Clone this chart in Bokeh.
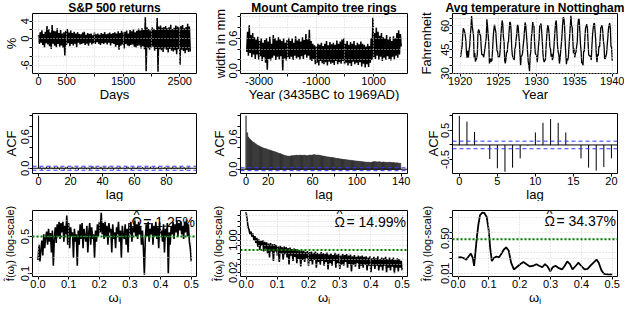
from bokeh.plotting import figure
from bokeh.layouts import gridplot
from bokeh.models import Range1d, FixedTicker, Span, Label, Title
from bokeh.embed import file_html
from bokeh.resources import INLINE

FONT = "Liberation Sans"

# ---------------- data ----------------
# S&P 500 daily returns (%), sampled every 15 days
sp_step = 15
sp_ret = [
    0.8, -1.2, 1.5, -0.9, 1.9, -1.4, 1.1, -2.0, 1.6, -1.0,
    2.9, -1.3, 2.2, -1.7, 1.4, -2.3, 3.1, -1.1, 1.8, -1.6,
    1.7, -1.9, 2.4, -1.2, 1.3, -1.8, 2.0, -1.5, 1.2, -2.1,
    1.5, -3.8, 1.8, -1.4, 2.2, -1.0, 1.4, -1.7, 1.9, -1.2,
    1.3, -1.5, 1.6, -1.1, 1.2, -1.9, 1.5, -0.9, 1.1, -1.3,
    1.0, -1.2, 1.4, -1.0, 1.6, -1.4, 0.9, -1.1, 1.3, -1.6,
    1.1, -0.9, 1.2, -1.3, 0.8, -1.0, 1.4, -1.2, 1.0, -0.8,
    1.2, -1.1, 0.9, -1.4, 1.3, -1.0, 1.1, -1.2, 1.5, -0.9,
    1.0, -1.3, 1.2, -0.9, 1.4, -1.5, 1.1, -1.0, 1.3, -1.2,
    1.5, -1.8, 1.2, -1.4, 1.7, -2.5, 1.3, -1.6, 1.8, -1.3,
    1.4, -2.2, 1.6, -1.2, 1.9, -1.5, 1.2, -1.7, 2.0, -1.4,
    1.7, -1.3, 2.1, -1.8, 1.5, -2.0, 1.8, -1.6, 2.3, -1.5,
    1.9, -2.2, 2.4, -1.7, 2.0, -2.4, 4.9, -7.4, 2.6, -2.1,
    2.2, -2.5, 1.9, -2.0, 2.6, -1.8, 2.3, -2.7, 2.0, -2.3,
    4.7, -7.5, 2.8, -2.4, 3.0, -2.6, 2.5, -3.0, 2.7, -2.2,
    2.9, -2.5, 2.4, -3.1, 2.6, -2.3, 3.2, -2.7, 2.2, -2.9,
    2.5, -2.6, 3.0, -3.5, 2.8, -2.4, 2.6, -5.9, 2.9, -2.5,
    3.1, -2.8, 2.4, -3.3, 2.7, -2.6, 3.4, -3.0, 2.8, -2.9,
]
sp_days = [1 + sp_step * i for i in range(len(sp_ret))]

# Mount Campito tree ring widths (mm), sampled every 30 years from 3435BC
tr_start, tr_step = -3435, 30
tr_width = [
    0.35, 0.72, 0.28, 0.84, 0.33, 0.66, 0.25, 0.70, 0.30, 0.62,
    0.22, 0.58, 0.30, 0.63, 0.20, 0.55, 0.27, 0.60, 0.18, 0.52,
    0.25, 0.57, 0.15, 0.60, 0.02, 0.54, 0.22, 0.63, 0.19, 0.50,
    0.24, 0.66, 0.28, 0.60, 0.20, 0.56, 0.26, 0.62, 0.21, 0.58,
    0.27, 0.55, 0.00, 0.60, 0.23, 0.52, 0.19, 0.57, 0.25, 0.61,
    0.22, 0.55, 0.26, 0.60, 0.20, 0.52, 0.28, 0.64, 0.23, 0.56,
    0.25, 0.59, 0.21, 0.54, 0.27, 0.62, 0.22, 0.57, 0.30, 0.68,
    0.24, 0.58, 0.28, 0.76, 0.20, 0.55, 0.18, 0.50, 0.22, 0.47,
    0.12, 0.45, 0.15, 0.50, 0.10, 0.48, 0.18, 0.52, 0.14, 0.46,
    0.12, 0.50, 0.16, 0.55, 0.10, 0.47, 0.17, 0.53, 0.13, 0.49,
    0.15, 0.52, 0.11, 0.48, 0.18, 0.56, 0.12, 0.50, 0.16, 0.54,
    0.13, 0.58, 0.18, 0.60, 0.12, 0.50, 0.15, 0.55, 0.10, 0.48,
    0.14, 0.53, 0.09, 0.50, 0.17, 0.55, 0.12, 0.47, 0.15, 0.52,
    0.11, 0.49, 0.16, 0.54, 0.08, 0.50, 0.13, 0.48, 0.06, 0.45,
    0.12, 0.50, 0.07, 0.46, 0.15, 0.60, 0.20, 0.98, 0.25, 0.70,
    0.22, 0.80, 0.28, 0.72, 0.20, 0.65, 0.26, 0.70, 0.18, 0.62,
    0.24, 0.60, 0.20, 0.66, 0.27, 0.58, 0.22, 0.63, 0.19, 0.55,
    0.26, 0.64, 0.21, 0.60, 0.28, 0.70, 0.24, 0.75, 0.30, 0.68,
    0.45,
]
tr_years = [tr_start + tr_step * i for i in range(len(tr_width))]

# Nottingham monthly average temperature (F), 1920-1939
nott_temp = [
    40.6, 40.8, 44.4, 46.7, 54.1, 58.5, 57.7, 56.4, 54.3, 50.5, 42.9, 39.8,
    44.2, 39.8, 45.1, 47.0, 54.1, 58.7, 66.3, 59.9, 57.0, 54.2, 39.7, 42.8,
    37.5, 38.7, 39.5, 42.1, 55.7, 57.8, 56.8, 54.3, 54.3, 47.1, 41.8, 41.7,
    41.8, 40.1, 42.9, 45.8, 49.2, 52.7, 64.2, 59.6, 54.4, 49.2, 36.3, 37.6,
    39.3, 37.5, 38.3, 45.5, 53.2, 57.7, 60.8, 58.2, 56.4, 49.8, 44.4, 43.6,
    40.0, 40.5, 40.8, 45.1, 53.8, 59.4, 63.5, 61.0, 53.0, 50.0, 38.1, 36.3,
    39.2, 43.4, 43.4, 48.9, 50.6, 56.8, 62.5, 62.0, 57.5, 46.7, 41.6, 39.8,
    39.4, 38.5, 45.3, 47.1, 51.7, 55.0, 60.4, 60.5, 54.7, 50.3, 42.3, 35.2,
    40.8, 41.1, 42.8, 47.3, 50.9, 56.4, 62.2, 60.5, 55.4, 50.2, 43.0, 37.3,
    34.8, 31.3, 41.0, 43.9, 53.1, 56.9, 62.5, 60.3, 59.8, 49.2, 42.9, 41.9,
    41.6, 37.1, 41.2, 46.9, 51.2, 60.4, 60.1, 61.6, 57.0, 50.9, 43.0, 38.8,
    37.1, 38.4, 38.4, 46.5, 53.5, 58.4, 60.6, 58.2, 53.8, 46.6, 45.5, 40.6,
    42.4, 38.4, 40.3, 44.6, 50.9, 57.0, 62.1, 63.5, 56.3, 47.3, 43.6, 41.8,
    36.2, 39.3, 44.5, 48.7, 54.2, 60.8, 65.5, 64.9, 60.1, 50.2, 42.1, 35.8,
    39.4, 38.2, 40.4, 46.9, 53.4, 59.6, 66.5, 60.4, 59.2, 51.2, 42.8, 45.8,
    40.0, 42.6, 43.5, 47.1, 50.0, 60.5, 64.6, 64.0, 56.8, 48.6, 44.2, 36.4,
    37.3, 35.0, 44.0, 43.9, 52.7, 58.6, 60.0, 61.1, 58.1, 49.6, 41.6, 41.3,
    40.8, 41.0, 38.4, 47.4, 54.1, 58.6, 61.4, 61.8, 56.3, 50.9, 41.4, 37.1,
    42.1, 41.2, 47.3, 46.6, 52.4, 59.0, 59.6, 60.4, 57.0, 50.7, 47.8, 39.2,
    39.4, 40.9, 42.4, 47.8, 52.4, 58.0, 60.7, 61.8, 58.2, 46.7, 46.6, 37.8,
]
nott_time = [1920 + i / 12 for i in range(len(nott_temp))]

# ACF of S&P returns, lags 0..95
sp_acf = [1.0,
    0.02, -0.03, 0.01, -0.02, 0.03, -0.01, 0.04, 0.01, -0.02, 0.02,
    -0.01, 0.03, -0.03, 0.02, 0.01, -0.04, 0.02, 0.03, -0.01, -0.02,
    0.03, 0.01, -0.02, 0.02, -0.03, 0.01, 0.02, -0.01, 0.03, -0.02,
    0.01, -0.03, 0.02, 0.04, -0.01, 0.02, -0.02, 0.01, 0.03, -0.03,
    0.02, 0.01, -0.02, 0.03, -0.01, 0.02, -0.03, 0.01, 0.02, -0.02,
    0.03, -0.01, 0.01, -0.02, 0.02, 0.03, -0.01, -0.03, 0.02, 0.01,
    -0.02, 0.03, 0.01, -0.01, 0.02, -0.03, 0.02, 0.01, -0.02, 0.03,
    -0.01, 0.02, -0.02, 0.01, 0.03, -0.02, 0.01, -0.01, 0.02, -0.03,
    0.02, 0.01, -0.02, 0.03, -0.01, 0.02, -0.02, 0.01, 0.03, -0.01,
    0.02, -0.03, 0.01, 0.02, -0.01]
sp_lags = list(range(len(sp_acf)))
sp_ci = 0.038

# ACF of tree rings, lags 0..139
tr_acf = [1.0,
    0.68, 0.60, 0.57, 0.55, 0.53, 0.51, 0.50, 0.48, 0.47, 0.45,
    0.44, 0.43, 0.42, 0.41, 0.40, 0.39, 0.385, 0.38, 0.37, 0.365,
    0.36, 0.35, 0.345, 0.34, 0.33, 0.325, 0.315, 0.31, 0.30, 0.295,
    0.29, 0.28, 0.27, 0.265, 0.255, 0.25, 0.245, 0.245, 0.24, 0.245,
    0.25, 0.25, 0.255, 0.255, 0.26, 0.26, 0.255, 0.26, 0.26, 0.26,
    0.255, 0.26, 0.26, 0.255, 0.25, 0.255, 0.26, 0.265, 0.26, 0.265,
    0.27, 0.27, 0.265, 0.26, 0.265, 0.26, 0.255, 0.25, 0.245, 0.245,
    0.24, 0.235, 0.23, 0.23, 0.225, 0.22, 0.22, 0.215, 0.215, 0.21,
    0.205, 0.20, 0.20, 0.195, 0.19, 0.19, 0.185, 0.18, 0.18, 0.175,
    0.175, 0.17, 0.17, 0.165, 0.165, 0.16, 0.16, 0.155, 0.155, 0.15,
    0.15, 0.145, 0.145, 0.14, 0.14, 0.135, 0.135, 0.13, 0.13, 0.13,
    0.13, 0.125, 0.13, 0.135, 0.14, 0.14, 0.14, 0.135, 0.135, 0.14,
    0.135, 0.13, 0.13, 0.135, 0.13, 0.13, 0.125, 0.125, 0.13, 0.13,
    0.125, 0.12, 0.125, 0.12, 0.115, 0.12, 0.115, 0.11, 0.11]
tr_lags = list(range(len(tr_acf)))
tr_ci = 0.027

# ACF of Nottingham temperatures, lags 0..20
nt_acf = [1.0, 0.80, 0.45, 0.01, -0.48, -0.80, -0.92, -0.78, -0.46, -0.02,
          0.43, 0.76, 0.89, 0.76, 0.43, 0.0, -0.46, -0.78, -0.88, -0.76, -0.46]
nt_lags = list(range(len(nt_acf)))
nt_ci = 0.13

# periodogram of S&P returns (log-scale), frequencies 0..0.5
sp_freq_step = 1 / 320
sp_spec = [
    0.18, 0.35, 0.17, 0.28, 0.42, 0.22, 0.55, 0.30, 0.48, 0.62,
    0.35, 0.70, 0.40, 0.58, 0.25, 0.65, 0.14, 0.45, 0.75, 0.38,
    0.85, 0.50, 0.95, 0.45, 0.90, 0.60, 0.95, 0.40, 0.80, 0.55,
    1.25, 0.35, 0.90, 0.30, 0.75, 0.50, 0.60, 0.20, 0.70, 0.40,
    0.55, 0.14, 0.65, 0.35, 0.85, 0.45, 0.90, 0.30, 0.70, 0.50,
    0.40, 0.80, 0.25, 0.60, 0.90, 0.35, 0.75, 0.45, 0.55, 0.20,
    0.65, 0.40, 0.85, 0.50, 0.95, 0.60, 1.40, 0.55, 0.90, 0.45,
    0.95, 0.50, 0.80, 0.35, 0.90, 0.60, 0.70, 0.25, 0.85, 0.45,
    0.60, 0.30, 0.75, 0.55, 0.95, 0.40, 0.65, 0.20, 0.80, 0.50,
    0.45, 0.85, 0.35, 0.70, 0.25, 0.90, 0.55, 0.95, 0.40, 0.75,
    0.60, 1.05, 0.50, 0.85, 0.45, 0.95, 0.55, 0.80, 0.35, 0.65,
    0.30, 0.095, 0.45, 0.85, 0.50, 0.95, 0.40, 0.70, 0.55, 0.90,
    0.35, 0.80, 0.50, 0.95, 0.45, 0.75, 0.30, 0.95, 0.55, 0.65,
    0.40, 0.85, 0.25, 0.70, 0.50, 0.90, 0.10, 0.60, 0.35, 0.80,
    0.55, 0.95, 0.45, 0.85, 0.60, 1.00, 0.50, 0.90, 0.65, 0.95,
    0.55, 0.80, 0.45, 0.95, 0.60, 1.05, 0.50, 0.85, 0.40, 0.30, 0.17,
]
sp_freq = [i * sp_freq_step for i in range(len(sp_spec))]
sp_white = 0.5

# periodogram of tree rings
tr_freq_step = 1 / 320
tr_spec = [
    30, 12, 5.0, 3.5, 2.0, 2.8, 1.5, 2.2, 1.0, 1.6,
    0.7, 1.3, 0.45, 1.1, 0.3, 0.9, 0.5, 1.0, 0.25, 0.8,
    0.35, 0.75, 0.2, 0.65, 0.12, 0.7, 0.25, 0.6, 0.08, 0.62,
    0.25, 0.55, 0.15, 0.45, 0.07, 0.5, 0.2, 0.42, 0.09, 0.46,
    0.18, 0.42, 0.12, 0.38, 0.05, 0.4, 0.15, 0.33, 0.08, 0.36,
    0.13, 0.33, 0.06, 0.3, 0.1, 0.29, 0.04, 0.27, 0.09, 0.28,
    0.07, 0.24, 0.11, 0.26, 0.045, 0.23, 0.08, 0.25, 0.05, 0.21,
    0.09, 0.25, 0.035, 0.21, 0.07, 0.19, 0.05, 0.23, 0.08, 0.2,
    0.045, 0.19, 0.07, 0.22, 0.028, 0.17, 0.06, 0.2, 0.045, 0.16,
    0.08, 0.21, 0.035, 0.17, 0.06, 0.19, 0.03, 0.15, 0.05, 0.18,
    0.045, 0.16, 0.07, 0.18, 0.035, 0.15, 0.055, 0.17, 0.022, 0.14,
    0.05, 0.16, 0.04, 0.13, 0.06, 0.15, 0.03, 0.14, 0.045, 0.15,
    0.035, 0.13, 0.05, 0.14, 0.025, 0.12, 0.045, 0.14, 0.02, 0.11,
    0.045, 0.13, 0.03, 0.11, 0.045, 0.14, 0.025, 0.1, 0.04, 0.12,
    0.025, 0.11, 0.045, 0.13, 0.02, 0.1, 0.035, 0.12, 0.025, 0.1,
    0.04, 0.12, 0.018, 0.09, 0.035, 0.11, 0.022, 0.1, 0.035, 0.08, 0.025,
]
tr_freq = [i * tr_freq_step for i in range(len(tr_spec))]
tr_white = 0.3

# smoothed spectrum of Nottingham temperatures
nt_freq = [0.0, 0.0074, 0.018, 0.0266, 0.034, 0.0415, 0.048, 0.052, 0.056, 0.0606,
           0.066, 0.0713, 0.0787, 0.0851, 0.0926, 0.0989, 0.104, 0.1096, 0.116, 0.1245,
           0.133, 0.140, 0.148, 0.156, 0.164, 0.172, 0.181, 0.190, 0.201, 0.212,
           0.222, 0.233, 0.244, 0.254, 0.263, 0.273, 0.282, 0.290, 0.299, 0.307,
           0.316, 0.327, 0.337, 0.346, 0.354, 0.363, 0.371, 0.382, 0.390, 0.399,
           0.410, 0.420, 0.431, 0.441, 0.449, 0.456, 0.465, 0.473, 0.486, 0.5]
nt_spec = [0.058, 0.060, 0.055, 0.046, 0.065, 0.091, 0.055, 0.023, 0.091, 0.50,
           2.36, 6.6, 8.6, 8.4, 5.5, 1.41, 0.181, 0.039, 0.055, 0.065,
           0.060, 0.085, 0.138, 0.181, 0.128, 0.033, 0.0154, 0.0196, 0.0275, 0.0351,
           0.0275, 0.0216, 0.0232, 0.0275, 0.0232, 0.0196, 0.0275, 0.0216, 0.0125, 0.0196,
           0.0232, 0.0177, 0.0154, 0.0232, 0.0375, 0.0275, 0.0154, 0.0232, 0.0326, 0.0232,
           0.0154, 0.0164, 0.0248, 0.0351, 0.046, 0.0326, 0.0139, 0.0095, 0.0089, 0.0089]
nt_white = 0.45

omega_values = ["= 1.25%", "= 14.99%", "= 34.37%"]
omega_symbol = "\u03A9"

# ---------------- helpers ----------------
def make(w, h, xr, yr, bl, br, bt, bb, ylog=False, title=None):
    kw = dict(width=w, height=h, x_range=Range1d(*xr), y_range=Range1d(*yr),
              output_backend="svg", toolbar_location=None,
              min_border_left=bl, min_border_right=br,
              min_border_top=bt, min_border_bottom=bb)
    if ylog:
        kw["y_axis_type"] = "log"
    p = figure(**kw)
    if title:
        p.title.text = title
        p.title.text_font = FONT
        p.title.text_font_style = "bold"
        p.title.text_font_size = "12px"
        p.title.text_color = "black"
        p.title.align = "center"
        p.title.standoff = -3
    p.outline_line_color = "black"
    p.outline_line_alpha = 1.0
    p.outline_line_width = 1
    p.background_fill_color = "white"
    p.border_fill_color = "white"
    return p


def style(p, xt, xl, yt, yl, xlabel, ylabel, grid=True, ylab_size="13px", ylab_standoff=0):
    xa = p.xaxis[0]
    ya = p.yaxis[0]
    xa.ticker = FixedTicker(ticks=xt)
    ya.ticker = FixedTicker(ticks=yt)
    xa.major_label_overrides = {t: l for t, l in zip(xt, xl)}
    ya.major_label_overrides = {t: l for t, l in zip(yt, yl)}
    for a in (xa, ya):
        a.axis_line_color = None
        a.major_tick_line_color = "black"
        a.major_tick_in = 0
        a.major_tick_out = 3
        a.minor_tick_line_color = None
        a.major_label_text_font = FONT
        a.major_label_text_font_size = "11px"
        a.major_label_text_color = "black"
        a.axis_label_text_font = FONT
        a.axis_label_text_font_size = "13px"
        a.axis_label_text_font_style = "normal"
        a.axis_label_text_color = "black"
    xa.major_label_standoff = 0
    ya.major_label_standoff = 0
    ya.axis_label_standoff = ylab_standoff
    ya.axis_label_text_font_size = ylab_size
    ya.major_label_orientation = "vertical"
    ya.axis_label = ylabel
    # x-axis title as a compact title placed below the axis
    p.add_layout(Title(text=xlabel, align="center", text_font=FONT, text_font_size="13px",
                       text_font_style="normal", text_color="black", standoff=-5), "below")
    if grid:
        p.xgrid.ticker = FixedTicker(ticks=xt)
        p.ygrid.ticker = FixedTicker(ticks=yt)
        for g in (p.xgrid, p.ygrid):
            g.grid_line_color = "#d3d3d3"
            g.grid_line_dash = "1 2"
            g.grid_line_width = 1
            g.level = "overlay"
    else:
        p.xgrid.grid_line_color = None
        p.ygrid.grid_line_color = None


def hline(p, y, color, dash=None, width=1):
    s = Span(location=y, dimension="width", line_color=color, line_width=width, level="overlay")
    if dash:
        s.line_dash = dash
    p.add_layout(s)


def omega(p, x, y, val, rest_px):
    common = dict(text_baseline="middle", text_font=FONT, text_color="black", level="overlay")
    p.add_layout(Label(x=x, y=y, text=val, text_align="right", text_font_size="14px", **common))
    p.add_layout(Label(x=x, y=y, x_offset=-rest_px, text=omega_symbol, text_align="right",
                       text_font_size="14px", **common))
    p.add_layout(Label(x=x, y=y, x_offset=-rest_px - 5.5, y_offset=8, text="^", text_align="center",
                       text_font_size="13px", **common))


W = [208, 207, 209]
H = [101, 100, 103]
BL = [32, 31, 36]
BR = [12, 8, 7]
BT = [11, 12, 9]
BB = [28, 28, 28]

# ---------------- row 1 ----------------
p1 = make(W[0], H[0], (-106, 2797), (-7.9, 5.75), BL[0], BR[0], BT[0], BB[0], title="S&P 500 returns")
p1.line(sp_days, sp_ret, line_color="black", line_width=1.5)
style(p1, [0, 500, 1000, 1500, 2000, 2500], ["0", "500", "", "1500", "", "2500"],
      [-6, -4, -2, 0, 2, 4], ["-6", "", "", "0", "", "4"], "Days", "%", ylab_standoff=0)

p2 = make(W[1], H[0], (-3651, 2185), (-0.05, 1.06), BL[1], BR[1], BT[0], BB[0], title="Mount Campito tree rings")
p2.line(tr_years, tr_width, line_color="black", line_width=1.5)
style(p2, [-3000, -2000, -1000, 0, 1000], ["-3000", "", "-1000", "", "1000"],
      [0.0, 0.2, 0.4, 0.6, 0.8, 1.0], ["0.0", "", "", "0.6", "", ""],
      "Year (3435BC to 1969AD)", "width in mm", ylab_standoff=-1)

p3 = make(W[2], H[0], (1919.0, 1940.6), (29.9, 67.9), BL[2], BR[2], BT[0], BB[0],
          title="Avg temperature in Nottingham")
p3.line(nott_time, nott_temp, line_color="black", line_width=1.3)
style(p3, [1920, 1925, 1930, 1935, 1940], ["1920", "1925", "1930", "1935", "1940"],
      [30, 35, 40, 45, 50, 55, 60, 65], ["30", "", "", "45", "", "", "60", ""], "Year", "Fahrenheit",
      ylab_standoff=5)

# ---------------- row 2 ----------------
p4 = make(W[0], H[1], (-3.8, 98.8), (-0.10, 1.04), BL[0], BR[0], BT[1], BB[1])
p4.segment(x0=sp_lags, y0=[0] * len(sp_lags), x1=sp_lags, y1=sp_acf, line_color="black", line_width=1)
hline(p4, 0, "black")
hline(p4, sp_ci, "#3333ff", "4 3")
hline(p4, -sp_ci, "#3333ff", "4 3")
style(p4, [0, 20, 40, 60, 80], ["0", "20", "40", "60", "80"],
      [0.0, 0.2, 0.4, 0.6, 0.8, 1.0], ["0.0", "", "", "0.6", "", ""], "lag", "ACF", grid=False)

p5 = make(W[1], H[1], (-5.0, 145.6), (-0.08, 1.04), BL[1], BR[1], BT[1], BB[1])
p5.segment(x0=tr_lags[:1], y0=[0], x1=tr_lags[:1], y1=tr_acf[:1], line_color="black", line_width=1)
p5.vbar(x=tr_lags[1:], top=tr_acf[1:], bottom=0, width=1.0, fill_color="#333333",
        line_color="#333333", line_width=0.6)
hline(p5, 0, "black")
hline(p5, tr_ci, "#3333ff", "4 3")
hline(p5, -tr_ci, "#3333ff", "4 3")
style(p5, [0, 20, 40, 60, 80, 100, 120, 140], ["0", "20", "", "60", "", "100", "", "140"],
      [0.0, 0.2, 0.4, 0.6, 0.8, 1.0], ["0.0", "", "", "0.6", "", ""], "lag", "ACF", grid=False)

p6 = make(W[2], H[1], (-0.9, 20.8), (-0.98, 1.08), BL[2], BR[2], BT[1], BB[1])
p6.segment(x0=nt_lags, y0=[0] * len(nt_lags), x1=nt_lags, y1=nt_acf, line_color="black", line_width=1)
hline(p6, 0, "black")
hline(p6, nt_ci, "#3333ff", "4 3")
hline(p6, -nt_ci, "#3333ff", "4 3")
style(p6, [0, 5, 10, 15, 20], ["0", "5", "10", "15", "20"],
      [-0.5, 0.0, 0.5, 1.0], ["-0.5", "", "0.5", ""], "lag", "ACF", grid=False, ylab_standoff=-2)

# ---------------- row 3 ----------------
fx = [0.0, 0.1, 0.2, 0.3, 0.4, 0.5]
fxl = ["0.0", "0.1", "0.2", "0.3", "0.4", "0.5"]
ylab3 = "f\u0302(\u03C9\u2C7C) (log-scale)"
xlab3 = "\u03C9\u2C7C"

p7 = make(W[0], H[2], (-0.018, 0.517), (0.088, 1.55), BL[0], BR[0], BT[2], BB[2], ylog=True)
p7.line(sp_freq, sp_spec, line_color="black", line_width=1.6)
style(p7, fx, fxl, [0.1, 0.2, 0.5, 1.0], ["0.1", "", "0.5", ""], xlab3, ylab3,
      ylab_size="11px", ylab_standoff=3)
hline(p7, sp_white, "#007a00", "2 2", 2)
omega(p7, 0.512, 0.93, omega_values[0], 53)

p8 = make(W[1], H[2], (-0.018, 0.517), (0.012, 36), BL[1], BR[1], BT[2], BB[2], ylog=True)
p8.line(tr_freq, tr_spec, line_color="black", line_width=1.6)
style(p8, fx, fxl, [0.02, 0.05, 0.1, 0.2, 0.5, 1.0, 2.0, 5.0, 10.0, 20.0],
      ["0.02", "", "", "", "", "1.00", "", "", "", ""], xlab3, ylab3,
      ylab_size="11px", ylab_standoff=3)
hline(p8, tr_white, "#007a00", "2 2", 2)
omega(p8, 0.512, 9.4, omega_values[1], 61)

p9 = make(W[2], H[2], (-0.018, 0.517), (0.007, 11), BL[2], BR[2], BT[2], BB[2], ylog=True)
p9.line(nt_freq, nt_spec, line_color="black", line_width=1.8)
style(p9, fx, fxl, [0.01, 0.05, 0.1, 0.5, 1.0, 5.0], ["0.01", "", "", "0.50", "", ""], xlab3, ylab3,
      ylab_size="11px", ylab_standoff=6)
hline(p9, nt_white, "#007a00", "2 2", 2)
omega(p9, 0.512, 3.4, omega_values[2], 61)

grid = gridplot([[p1, p2, p3], [p4, p5, p6], [p7, p8, p9]], toolbar_location=None)

with open("out.html", "w") as f:
    f.write(file_html(grid, INLINE))
